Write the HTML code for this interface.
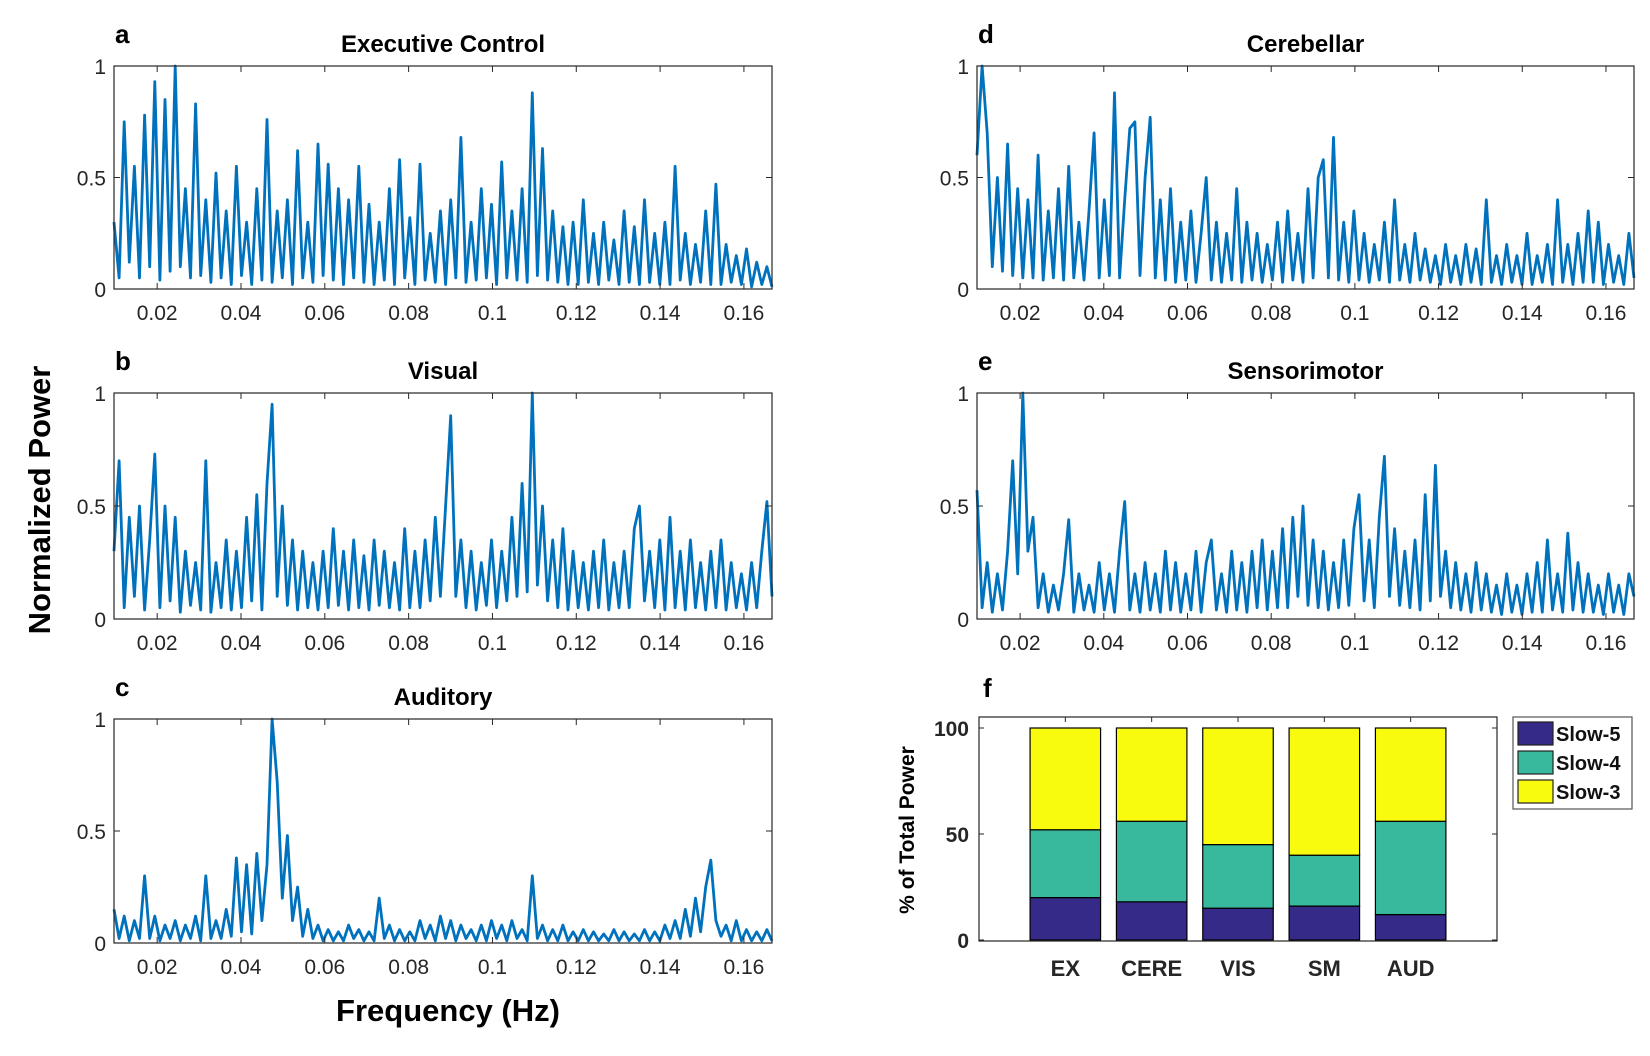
<!DOCTYPE html>
<html><head><meta charset="utf-8"><style>
body{margin:0;background:#fff;}
svg{display:block;font-family:"Liberation Sans",Arial,sans-serif;}
</style></head><body>
<svg id="fig" width="1650" height="1056" viewBox="0 0 1650 1056" xmlns="http://www.w3.org/2000/svg"></svg>
<script>
const freqMin = 0.0097, freqMax = 0.1667;
const xTicks = [0.02,0.04,0.06,0.08,0.1,0.12,0.14,0.16];
const xTickLabels = ["0.02","0.04","0.06","0.08","0.1","0.12","0.14","0.16"];
const yTicks = [0,0.5,1];
const yTickLabels = ["0","0.5","1"];
const seriesExec = [0.3,0.05,0.75,0.12,0.55,0.05,0.78,0.1,0.93,0.04,0.85,0.08,1.0,0.1,0.45,0.05,0.83,0.06,0.4,0.03,0.52,0.05,0.35,0.02,0.55,0.06,0.3,0.02,0.45,0.04,0.76,0.03,0.35,0.05,0.4,0.02,0.62,0.05,0.3,0.03,0.65,0.06,0.56,0.04,0.45,0.02,0.4,0.05,0.55,0.03,0.38,0.02,0.3,0.04,0.45,0.02,0.58,0.05,0.32,0.02,0.56,0.04,0.25,0.03,0.35,0.02,0.4,0.05,0.68,0.03,0.3,0.04,0.45,0.05,0.38,0.02,0.57,0.05,0.35,0.04,0.45,0.03,0.88,0.06,0.63,0.04,0.35,0.03,0.28,0.02,0.3,0.02,0.4,0.03,0.25,0.02,0.3,0.04,0.22,0.02,0.35,0.03,0.28,0.02,0.4,0.03,0.25,0.02,0.3,0.02,0.55,0.04,0.25,0.02,0.2,0.03,0.35,0.02,0.47,0.02,0.2,0.03,0.15,0.02,0.18,0.01,0.12,0.02,0.1,0.01];
const seriesVisual = [0.3,0.7,0.05,0.45,0.1,0.5,0.04,0.35,0.73,0.05,0.5,0.08,0.45,0.03,0.3,0.06,0.25,0.04,0.7,0.03,0.25,0.05,0.35,0.04,0.3,0.05,0.45,0.08,0.55,0.04,0.6,0.95,0.1,0.5,0.06,0.35,0.04,0.3,0.05,0.25,0.04,0.3,0.05,0.4,0.06,0.3,0.04,0.35,0.05,0.28,0.04,0.35,0.06,0.3,0.05,0.25,0.04,0.4,0.05,0.3,0.05,0.35,0.08,0.45,0.1,0.5,0.9,0.1,0.35,0.05,0.3,0.04,0.25,0.06,0.35,0.05,0.3,0.08,0.45,0.1,0.6,0.12,1.0,0.15,0.5,0.08,0.35,0.05,0.4,0.04,0.3,0.05,0.25,0.04,0.3,0.05,0.35,0.04,0.25,0.05,0.3,0.05,0.4,0.5,0.08,0.3,0.05,0.35,0.04,0.45,0.05,0.3,0.04,0.35,0.05,0.25,0.04,0.3,0.05,0.35,0.04,0.25,0.05,0.2,0.04,0.25,0.05,0.3,0.52,0.1];
const seriesAuditory = [0.15,0.02,0.12,0.01,0.1,0.02,0.3,0.02,0.12,0.01,0.08,0.02,0.1,0.01,0.08,0.02,0.12,0.01,0.3,0.02,0.1,0.02,0.15,0.03,0.38,0.05,0.35,0.04,0.4,0.1,0.35,1.0,0.72,0.2,0.48,0.1,0.25,0.03,0.15,0.02,0.08,0.01,0.06,0.01,0.05,0.01,0.08,0.02,0.06,0.01,0.05,0.01,0.2,0.02,0.08,0.01,0.06,0.01,0.05,0.01,0.1,0.02,0.08,0.01,0.12,0.02,0.1,0.01,0.08,0.02,0.06,0.01,0.08,0.01,0.1,0.02,0.08,0.01,0.1,0.02,0.06,0.01,0.3,0.02,0.08,0.01,0.06,0.01,0.08,0.01,0.05,0.01,0.06,0.01,0.05,0.01,0.04,0.01,0.06,0.01,0.05,0.01,0.04,0.01,0.06,0.01,0.05,0.01,0.08,0.02,0.1,0.02,0.15,0.03,0.2,0.05,0.25,0.37,0.1,0.03,0.08,0.01,0.1,0.01,0.06,0.01,0.05,0.01,0.06,0.01];
const seriesCereb = [0.6,1.0,0.7,0.1,0.5,0.08,0.65,0.06,0.45,0.05,0.4,0.05,0.6,0.04,0.35,0.05,0.45,0.04,0.55,0.05,0.3,0.04,0.35,0.7,0.05,0.4,0.06,0.88,0.05,0.4,0.72,0.75,0.06,0.5,0.77,0.05,0.4,0.04,0.45,0.03,0.3,0.04,0.35,0.03,0.25,0.5,0.04,0.3,0.03,0.25,0.04,0.45,0.03,0.3,0.04,0.25,0.03,0.2,0.04,0.3,0.03,0.35,0.04,0.25,0.03,0.45,0.05,0.5,0.58,0.05,0.68,0.04,0.3,0.03,0.35,0.04,0.25,0.03,0.2,0.04,0.3,0.03,0.4,0.04,0.2,0.03,0.25,0.04,0.18,0.03,0.15,0.02,0.2,0.03,0.15,0.02,0.2,0.03,0.18,0.02,0.4,0.03,0.15,0.02,0.2,0.03,0.15,0.02,0.25,0.02,0.15,0.03,0.2,0.02,0.4,0.03,0.2,0.02,0.25,0.03,0.35,0.03,0.3,0.02,0.2,0.03,0.15,0.02,0.25,0.05];
const seriesSensori = [0.57,0.05,0.25,0.03,0.2,0.04,0.3,0.7,0.2,1.0,0.3,0.45,0.05,0.2,0.03,0.15,0.04,0.2,0.44,0.03,0.2,0.04,0.15,0.03,0.25,0.04,0.2,0.03,0.3,0.52,0.04,0.2,0.03,0.25,0.04,0.2,0.03,0.3,0.04,0.25,0.03,0.2,0.04,0.3,0.03,0.25,0.35,0.04,0.2,0.03,0.3,0.04,0.25,0.03,0.3,0.05,0.35,0.04,0.3,0.05,0.4,0.05,0.45,0.1,0.5,0.06,0.35,0.05,0.3,0.04,0.25,0.05,0.35,0.06,0.4,0.55,0.08,0.35,0.05,0.45,0.72,0.1,0.4,0.06,0.3,0.05,0.35,0.04,0.55,0.08,0.68,0.1,0.3,0.05,0.25,0.04,0.2,0.03,0.25,0.04,0.2,0.03,0.15,0.02,0.2,0.03,0.15,0.02,0.2,0.03,0.25,0.03,0.35,0.04,0.2,0.03,0.38,0.04,0.25,0.03,0.2,0.03,0.15,0.02,0.2,0.03,0.15,0.02,0.2,0.1];
const barCategories = ["EX","CERE","VIS","SM","AUD"];
const slow5 = [20,18,15,16,12];
const slow4 = [32,38,30,24,44];
const slow3 = [48,44,55,60,44];
const barYTicks = [0,50,100];

const NS="http://www.w3.org/2000/svg";
const svg=document.getElementById('fig');
function mk(tag,attrs,parent){const e=document.createElementNS(NS,tag);for(const k in attrs)e.setAttribute(k,attrs[k]);(parent||svg).appendChild(e);return e;}
function txt(s,attrs,parent){const e=mk('text',attrs,parent);e.textContent=s;return e;}

const panels=[
 {key:'exec',title:'Executive Control',letter:'a',data:seriesExec,x0:114,x1:772,y0:66,y1:289},
 {key:'visual',title:'Visual',letter:'b',data:seriesVisual,x0:114,x1:772,y0:393,y1:619},
 {key:'auditory',title:'Auditory',letter:'c',data:seriesAuditory,x0:114,x1:772,y0:719,y1:943},
 {key:'cerebellar',title:'Cerebellar',letter:'d',data:seriesCereb,x0:977,x1:1634,y0:66,y1:289},
 {key:'sensorimotor',title:'Sensorimotor',letter:'e',data:seriesSensori,x0:977,x1:1634,y0:393,y1:619}
];
panels.forEach(p=>{
  const g=mk('g',{});
  
  
  const xs=f=>p.x0+(f-freqMin)/(freqMax-freqMin)*(p.x1-p.x0);
  const ys=v=>p.y1-v*(p.y1-p.y0);
  const n=p.data.length;
  let d='';
  p.data.forEach((v,i)=>{const f=freqMin+i*(freqMax-freqMin)/(n-1);d+=(i?'L':'M')+xs(f).toFixed(1)+','+ys(v).toFixed(1);});
  const line=mk('path',{d:d,fill:'none',stroke:'#0072BD','stroke-width':2.8,'stroke-linejoin':'round'},g);
  
  
  const ax=mk('rect',{x:p.x0,y:p.y0,width:p.x1-p.x0,height:p.y1-p.y0,fill:'none',stroke:'#262626','stroke-width':1.2},g);
  
  
  xTicks.forEach((t,i)=>{
    const x=xs(t);
    mk('line',{x1:x,x2:x,y1:p.y1,y2:p.y1-6,stroke:'#262626','stroke-width':1},g);
    mk('line',{x1:x,x2:x,y1:p.y0,y2:p.y0+6,stroke:'#262626','stroke-width':1},g);
    const l=txt(xTickLabels[i],{x:x,y:p.y1+31,'text-anchor':'middle','font-size':21,fill:'#262626'},g);
    
    
  });
  yTicks.forEach((t,i)=>{
    const y=ys(t);
    mk('line',{x1:p.x0,x2:p.x0+6,y1:y,y2:y,stroke:'#262626','stroke-width':1},g);
    mk('line',{x1:p.x1,x2:p.x1-6,y1:y,y2:y,stroke:'#262626','stroke-width':1},g);
    const l=txt(yTickLabels[i],{x:p.x0-8,y:y+8,'text-anchor':'end','font-size':21,fill:'#262626'},g);
    
    
  });
  const t=txt(p.title,{x:(p.x0+p.x1)/2,y:p.y0-14,'text-anchor':'middle','font-size':24,'font-weight':'bold',fill:'#000'},g);
  
  
  const le=txt(p.letter,{x:p.x0+1,y:p.y0-23,'font-size':26,'font-weight':'bold',fill:'#000'},g);
  
  
});

// bar chart f
const bx0=979,bx1=1497,by0=717,by1=941;
const bg=mk('g',{});


const bxs=i=>bx0+(i+1)/6*(bx1-bx0);
const bys=v=>940-v*(940-728)/100;
const bw=70.5;
const colors={s5:'#352A87',s4:'#38B99E',s3:'#F9FB0E'};
barCategories.forEach((c,i)=>{
  const cx=bxs(i);
  const segs=[[0,slow5[i],colors.s5,'slow5'],[slow5[i],slow5[i]+slow4[i],colors.s4,'slow4'],[slow5[i]+slow4[i],slow5[i]+slow4[i]+slow3[i],colors.s3,'slow3']];
  segs.forEach(s=>{
    const r=mk('rect',{x:cx-bw/2,y:bys(s[1]),width:bw,height:bys(s[0])-bys(s[1]),fill:s[2],stroke:'#000','stroke-width':1.2},bg);
    
    
  });
  mk('line',{x1:cx,x2:cx,y1:by0,y2:by0+5,stroke:'#262626','stroke-width':1},bg);
  const l=txt(c,{x:cx,y:976,'text-anchor':'middle','font-size':22,'font-weight':'bold',fill:'#262626'},bg);
  
  
});
const bax=mk('rect',{x:bx0,y:by0,width:bx1-bx0,height:by1-by0,fill:'none',stroke:'#262626','stroke-width':1.2},bg);


barYTicks.forEach(t=>{
  const y=bys(t);
  mk('line',{x1:bx0,x2:bx0+5,y1:y,y2:y,stroke:'#262626','stroke-width':1},bg);
  mk('line',{x1:bx1,x2:bx1-5,y1:y,y2:y,stroke:'#262626','stroke-width':1},bg);
  const l=txt(String(t),{x:bx0-10,y:y+8,'text-anchor':'end','font-size':21,'font-weight':'bold',fill:'#262626'},bg);
  
  
});
const yl=txt('% of Total Power',{x:0,y:0,'text-anchor':'middle','font-size':21,'font-weight':'bold',fill:'#000',transform:'translate(914,830) rotate(-90)'},bg);


const fl=txt('f',{x:983,y:697,'font-size':26,'font-weight':'bold',fill:'#000'},bg);



// legend
const lg=mk('g',{});


mk('rect',{x:1513,y:717,width:119,height:92,fill:'#fff',stroke:'#555','stroke-width':1.2},lg);
[['Slow-5',colors.s5],['Slow-4',colors.s4],['Slow-3',colors.s3]].forEach((e,i)=>{
  const eg=mk('g',{},lg);
  
  
  const y=722+i*29;
  mk('rect',{x:1518,y:y,width:35,height:23,fill:e[1],stroke:'#222','stroke-width':1.2},eg);
  txt(e[0],{x:1556,y:y+19,'font-size':20,'font-weight':'bold',fill:'#111'},eg);
});

// shared axis titles
const ny=txt('Normalized Power',{x:0,y:0,'text-anchor':'middle','font-size':31,'font-weight':'bold',fill:'#000',transform:'translate(50,500) rotate(-90)'});


const fx=txt('Frequency (Hz)',{x:448,y:1021,'text-anchor':'middle','font-size':31,'font-weight':'bold',fill:'#000'});


</script>
</body></html>
